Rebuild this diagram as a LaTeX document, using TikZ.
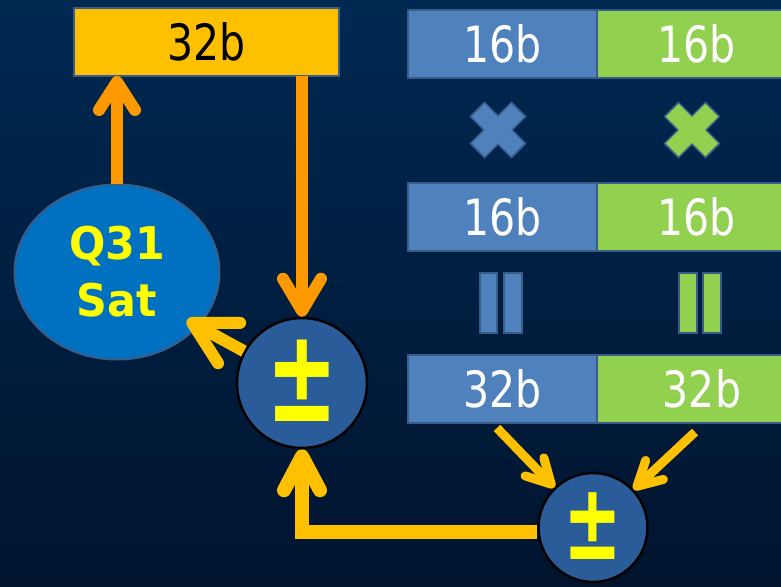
\documentclass[tikz,border=0pt]{standalone}
\usepackage{fontspec}
\usepackage{pdfrender}
\setmainfont{DejaVu Sans}
\newfontfamily\lblfont[FakeStretch=0.82]{DejaVu Sans}
\newfontfamily\boldlbl[FakeStretch=0.95]{DejaVu Sans}
\usetikzlibrary{arrows.meta,shapes.geometric}
\definecolor{bgtop}{RGB}{0,41,82}
\definecolor{bgbot}{RGB}{0,20,46}
\definecolor{ybox}{RGB}{255,192,0}
\definecolor{bluebox}{RGB}{79,129,189}
\definecolor{greenbox}{RGB}{146,208,80}
\definecolor{boxline}{RGB}{56,93,138}
\definecolor{ellfill}{RGB}{0,112,192}
\definecolor{circfill}{RGB}{42,92,154}
\definecolor{signcol}{RGB}{255,255,0}
\definecolor{orangearr}{RGB}{255,153,0}
\definecolor{amberarr}{RGB}{255,192,0}
\newcommand{\heavypm}[2]{\raisebox{#2}{\scalebox{0.9}[1.3]{\textpdfrender{TextRenderingMode=FillStroke,LineWidth=#1}{±}}}}
\pgfdeclarelayer{under}
\pgfsetlayers{under,main}
\begin{document}
\begin{tikzpicture}[x=1pt,y=-1pt,
  field/.style={draw=boxline, line width=2pt, minimum height=68pt, inner sep=0pt, outer sep=0pt,
    anchor=north west, text=white, font=\lblfont\fontsize{50}{50}\selectfont},
  opsign/.style={circle, draw=black, line width=2.5pt, fill=circfill, inner sep=0pt, text=signcol},
  symmark/.style={draw=boxline, line width=1.5pt},
  oarrow/.style={draw=orangearr, line width=12pt},
  aarrow/.style={draw=amberarr},
]
\useasboundingbox (0,0) rectangle (781,586);
\begin{pgfonlayer}{under}
\fill[top color=bgtop, bottom color=bgbot] (0,0) rectangle (781,586);
\end{pgfonlayer}

% boxes
\node[field, fill=ybox, minimum width=265pt, text=black] (top) at (74,8) {32b};
\node[field, fill=bluebox, minimum width=189pt] (b1) at (408,10) {16b};
\node[field, fill=greenbox, minimum width=199pt] (g1) at (597,10) {16b};
\node[field, fill=bluebox, minimum width=189pt] (b2) at (408,183) {16b};
\node[field, fill=greenbox, minimum width=199pt] (g2) at (597,183) {16b};
\node[field, fill=bluebox, minimum width=189pt] (b3) at (408,355) {32b};
\node[field, fill=greenbox, minimum width=210pt] (g3) at (597,355) {32b};

% multiply marks
\foreach \cx/\col in {498/bluebox, 692/greenbox}{
  \draw[symmark, fill=\col, shift={(\cx,130)}, rotate=45]
    (-10,-29) -- (10,-29) -- (10,-10) -- (29,-10) -- (29,10) -- (10,10) -- (10,29)
    -- (-10,29) -- (-10,10) -- (-29,10) -- (-29,-10) -- (-10,-10) -- cycle;
}
% equal marks (rotated)
\draw[symmark, fill=bluebox] (480,273) rectangle (497,333);
\draw[symmark, fill=bluebox] (504,273) rectangle (522,333);
\draw[symmark, fill=greenbox] (679,273) rectangle (697,333);
\draw[symmark, fill=greenbox] (703,273) rectangle (721,333);

% saturation ellipse
\node[ellipse, draw=boxline, line width=2pt, fill=ellfill, minimum width=205pt, minimum height=175pt,
  inner sep=0pt, text=signcol, align=center,
  font=\boldlbl\bfseries\fontsize{45}{57}\selectfont] (ell) at (117,272) {Q31\\Sat};

% adders
\node[opsign, minimum size=130pt, font=\boldlbl\bfseries\fontsize{100}{100}\selectfont] (c1) at (302,383) {\heavypm{5pt}{4pt}};
\node[opsign, minimum size=109pt, font=\boldlbl\bfseries\fontsize{82}{82}\selectfont] (c2) at (593,527.5) {\heavypm{4pt}{3pt}};

% connectors
\coordinate (t1) at (ell.north |- top.south);
\draw[oarrow, -{Straight Barb[length=28pt,width=36pt,round]}] (ell.north) -- (t1);
\coordinate (s2) at (c1 |- top.south);
\draw[oarrow, -{Straight Barb[length=32pt,width=38pt,round]}] (s2) -- (c1.north);
\coordinate (t3) at (187,320);
\draw[aarrow, line width=12pt, -{Straight Barb[length=42pt,width=46pt,round]}] (c1) -- (t3);
\coordinate (s4) at ([yshift=-4pt]c2.west);
\begin{pgfonlayer}{under}
\draw[aarrow, line width=14pt, -{Straight Barb[length=34pt,width=36pt,round]}] (s4) -| (c1.south);
\end{pgfonlayer}
\coordinate (s5) at (497,428);
\coordinate (s6) at (695,432);
\draw[aarrow, line width=9pt, -{Straight Barb[length=24pt,width=26pt,round]}] (s5) -- (c2);
\draw[aarrow, line width=9pt, -{Straight Barb[length=24pt,width=26pt,round]}] (s6) -- (c2);
\end{tikzpicture}
\end{document}
